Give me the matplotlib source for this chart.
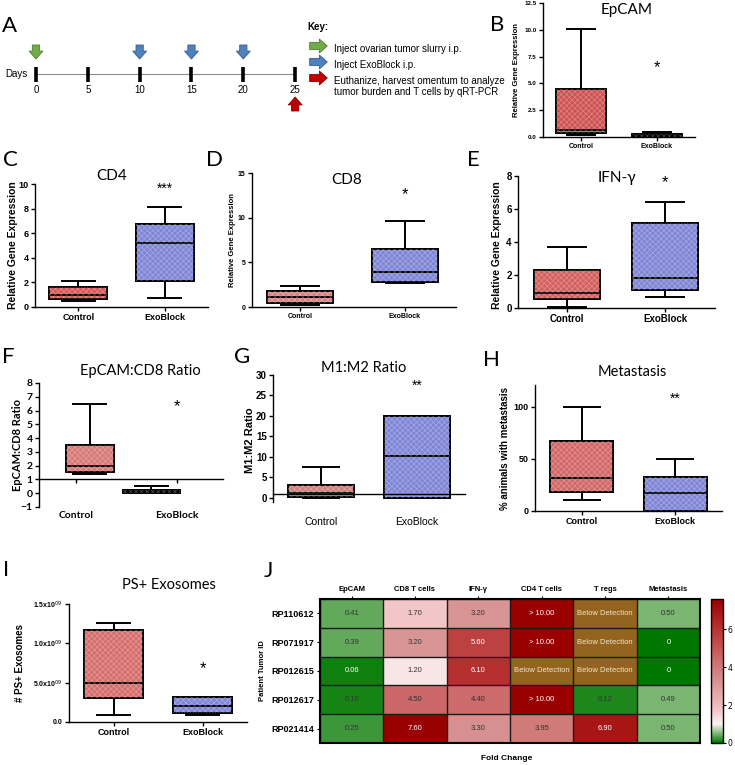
import numpy as np
import matplotlib
matplotlib.use('Agg')
import matplotlib.pyplot as plt
from matplotlib.colors import LinearSegmentedColormap
from matplotlib.patches import Rectangle

####### data

groups = ['Control', 'ExoBlock']

# five-number summaries: [whisker low, Q1, median, Q3, whisker high]
epcam_ctrl = [0.19, 0.34, 0.62, 4.48, 10.1]
epcam_exo = [0.03, 0.03, 0.18, 0.28, 0.5]
cd4_ctrl = [0.49, 0.65, 0.98, 1.65, 2.14]
cd4_exo = [0.7, 2.14, 5.23, 6.72, 8.16]
cd8_ctrl = [0.22, 0.49, 1.08, 1.83, 2.35]
cd8_exo = [2.7, 2.8, 3.9, 6.5, 9.6]
ifng_ctrl = [0.04, 0.53, 0.89, 2.3, 3.72]
ifng_exo = [0.65, 1.09, 1.84, 5.17, 6.4]
epcd8_ctrl = [1.4, 1.52, 1.96, 3.48, 6.45]
epcd8_exo = [0.0, 0.0, 0.1, 0.25, 0.5]
m1m2_ctrl = [0.0, 0.25, 1.2, 3.2, 7.6]
m1m2_exo = [0.0, 0.0, 10.3, 20.0, 20.0]
meta_ctrl = [11, 18, 32, 67, 100]
meta_exo = [0, 0, 17, 33, 50]
ps_ctrl = [0.09e9, 0.31e9, 0.50e9, 1.17e9, 1.26e9]
ps_exo = [0.09e9, 0.11e9, 0.20e9, 0.32e9, 0.32e9]

# timeline (days)
days = [0, 5, 10, 15, 20, 25]
tumor_day = [0]
exoblock_days = [10, 15, 20]
harvest_day = [25]

# heatmap (fold change); nan = below detection, 10 = "> 10.00"
patients = ['RP110612', 'RP071917', 'RP012615', 'RP012617', 'RP021414']
markers = ['EpCAM', 'CD8 T cells', 'IFN-\u03b3', 'CD4 T cells', 'T regs', 'Metastasis']
fc_epcam = [0.41, 0.39, 0.06, 0.10, 0.25]
fc_cd8 = [1.70, 3.20, 1.20, 4.50, 7.60]
fc_ifng = [3.20, 5.60, 6.10, 4.40, 3.30]
fc_cd4 = [10.0, 10.0, np.nan, 10.0, 3.95]
fc_treg = [np.nan, np.nan, np.nan, 0.12, 6.90]
fc_meta = [0.50, 0, 0, 0.49, 0.50]

#######

W, H = 735, 765
plt.rcParams['hatch.linewidth'] = 0.5
fig = plt.figure(figsize=(W / 100, H / 100), dpi=100)
ARIAL = 'Liberation Sans'
CALI = ['Lato', 'DejaVu Sans']
BLUE = '#7f85d6'


def px_axes(x0, y0, x1, y1):
    return fig.add_axes([x0 / W, 1 - y1 / H, (x1 - x0) / W, (y1 - y0) / H])


def ftext(x, y, s, **kw):
    kw.setdefault('ha', 'center')
    kw.setdefault('va', 'center')
    fig.text(x / W, 1 - y / H, s, **kw)


def draw_boxes(ax, ctrl, exo, colors, positions=(1, 2), widths=0.67, capw=0.38, ticks=True):
    stats = []
    for s, lab in zip((ctrl, exo), groups):
        stats.append(dict(whislo=s[0], q1=s[1], med=s[2], q3=s[3], whishi=s[4], fliers=[], label=lab))
    bp = ax.bxp(stats, positions=positions, widths=widths, capwidths=capw, patch_artist=True,
                showfliers=False, manage_ticks=ticks,
                boxprops=dict(lw=1.4, edgecolor='black'), whiskerprops=dict(lw=1.4),
                capprops=dict(lw=1.4), medianprops=dict(color='black', lw=1.4))
    if np.ndim(widths) == 0:
        widths = [widths] * 2
    for patch, c, st, p, w in zip(bp['boxes'], colors, stats, positions, widths):
        patch.set_facecolor(c)
        # checker-like texture of the original fill
        ax.add_patch(Rectangle((p - w / 2, st['q1']), w, st['q3'] - st['q1'], fill=False,
                               hatch='xxxxxx', edgecolor=(1, 1, 1, 0.3), lw=0, zorder=2.5))


def style(ax, xfs, yfs, family=ARIAL, weight='bold'):
    for s in ('top', 'right'):
        ax.spines[s].set_visible(False)
    ax.spines['left'].set_linewidth(1.0)
    ax.spines['bottom'].set_linewidth(1.0)
    ax.tick_params(width=1, length=3, pad=1.5)
    for lab in ax.get_xticklabels():
        lab.set_fontsize(xfs); lab.set_fontfamily(family); lab.set_fontweight(weight)
    for lab in ax.get_yticklabels():
        lab.set_fontsize(yfs); lab.set_fontfamily(family); lab.set_fontweight(weight)


############ A: timeline
axA = px_axes(0, 0, 460, 140)
axA.set_xlim(-3.47, 40.9)
axA.set_ylim(140, 0)
axA.axis('off')
axA.plot([days[0], days[-1]], [74, 74], color='#8c8c8c', lw=0.8, zorder=1)
axA.vlines(days, 67, 82, color='black', lw=2.6, zorder=2)
for d in days:
    axA.text(d, 90, str(d), ha='center', va='center', fontsize=7, family=ARIAL)
axA.text(-1.93, 74, 'Days', ha='center', va='center', fontsize=7, family=ARIAL)


def block_arrow(ax, xy, xytext, fc, ec):
    ax.annotate('', xy=xy, xytext=xytext,
                arrowprops=dict(arrowstyle='simple,head_length=0.6,head_width=1.05,tail_width=0.55',
                                mutation_scale=9.5, fc=fc, ec=ec, lw=0.6, shrinkA=0, shrinkB=0))


for d in tumor_day:
    block_arrow(axA, (d, 59), (d, 45), '#70ad47', '#4e7d31')
for d in exoblock_days:
    block_arrow(axA, (d, 59), (d, 45), '#4f81bd', '#385d8a')
for d in harvest_day:
    block_arrow(axA, (d, 97), (d, 111), '#c00000', '#8b0000')

axA.text(26.2, 27, 'Key:', ha='left', va='center', fontsize=7, family=ARIAL, weight='bold')
key_items = [('#70ad47', '#4e7d31', 46, 'Inject ovarian tumor slurry i.p.'),
             ('#4f81bd', '#385d8a', 62, 'Inject ExoBlock i.p.'),
             ('#c00000', '#8b0000', 78, 'Euthanize, harvest omentum to analyze\ntumor burden and T cells by qRT-PCR')]
for fc, ec, y, txt in key_items:
    block_arrow(axA, (28.1, y), (26.4, y), fc, ec)
    axA.text(28.7, y - 1.5, txt, ha='left', va='top', fontsize=7, family=ARIAL, linespacing=1.1)
ftext(9, 26, 'A', fontsize=16, family=CALI)

############ B: EpCAM
axB = px_axes(543, 3, 695, 137)
draw_boxes(axB, epcam_ctrl, epcam_exo, ['#cf5252', BLUE])
axB.set_xlim(0.5, 2.5)
axB.set_ylim(0, 12.5)
axB.set_yticks(np.arange(0, 12.6, 2.5))
axB.yaxis.set_major_formatter('{x:.1f}')
style(axB, 5, 4.5)
axB.text(2, 6.5, '*', ha='center', va='center', fontsize=12, family=ARIAL)
ftext(517, 70, 'Relative Gene Expression', rotation=90, fontsize=5.5, family=ARIAL, weight='bold')
ftext(627, 10, 'EpCAM', fontsize=11, family=CALI)
ftext(497, 25, 'B', fontsize=16, family=CALI)

############ C: CD4
axC = px_axes(35, 184, 208, 307)
draw_boxes(axC, cd4_ctrl, cd4_exo, ['#d65a5a', BLUE])
axC.set_xlim(0.5, 2.5)
axC.set_ylim(0, 10)
axC.set_yticks(np.arange(0, 11, 2))
style(axC, 6.5, 6.5)
axC.text(2, 9.6, '***', ha='center', va='center', fontsize=10, family=ARIAL)
ftext(13, 245, 'Relative Gene Expression', rotation=90, fontsize=7.5, family=ARIAL, weight='bold')
ftext(112, 176, 'CD4', fontsize=11, family=CALI)
ftext(10, 160, 'C', fontsize=16, family=CALI)

############ D: CD8
axD = px_axes(252, 173, 456, 307)
draw_boxes(axD, cd8_ctrl, cd8_exo, ['#da8282', BLUE], widths=0.63, capw=0.36)
axD.set_xlim(0.54, 2.49)
axD.set_ylim(0, 15)
axD.set_yticks([0, 5, 10, 15])
style(axD, 5, 5)
axD.text(2, 12.6, '*', ha='center', va='center', fontsize=12, family=ARIAL)
ftext(233, 240, 'Relative Gene Expression', rotation=90, fontsize=5.5, family=ARIAL, weight='bold')
ftext(347, 180, 'CD8', fontsize=11, family=CALI)
ftext(214, 160, 'D', fontsize=16, family=CALI)

############ E: IFN-g
axE = px_axes(518, 176, 715, 308)
draw_boxes(axE, ifng_ctrl, ifng_exo, ['#d45e5e', BLUE])
axE.set_xlim(0.5, 2.51)
axE.set_ylim(0, 8)
axE.set_yticks(np.arange(0, 9, 2))
style(axE, 7, 7)
axE.text(2, 7.6, '*', ha='center', va='center', fontsize=12, family=ARIAL)
ftext(497, 245, 'Relative Gene Expression', rotation=90, fontsize=7.5, family=ARIAL, weight='bold')
ftext(617, 178, 'IFN-\u03b3', fontsize=11, family=CALI)
ftext(473, 160, 'E', fontsize=16, family=CALI)

############ F: EpCAM:CD8 ratio
axF = px_axes(39, 383, 223, 507)
draw_boxes(axF, epcd8_ctrl, epcd8_exo, ['#d87878', BLUE], positions=(1.05, 1.72),
           widths=(0.52, 0.62), capw=0.36, ticks=False)
axF.set_xlim(0.5, 2.5)
axF.set_ylim(-1, 8)
axF.set_yticks(np.arange(-1, 9, 1))
axF.set_xticks([0.9, 2.0], groups)
axF.spines['bottom'].set_position(('data', 1))
style(axF, 7.5, 7.5, family=CALI)
axF.tick_params(axis='x', pad=20)
axF.text(2.0, 6.3, '*', ha='center', va='center', fontsize=12, family=ARIAL)
ftext(18, 445, 'EpCAM:CD8 Ratio', rotation=90, fontsize=8, family=CALI, weight='bold')
ftext(140, 371, 'EpCAM:CD8 Ratio', fontsize=10.5, family=CALI)
ftext(8, 357, 'F', fontsize=16, family=CALI)

############ G: M1:M2 ratio
axG = px_axes(273, 375, 465, 502)
draw_boxes(axG, m1m2_ctrl, m1m2_exo, ['#da7a7a', BLUE], widths=0.68)
axG.set_xlim(0.5, 2.5)
axG.set_ylim(-1, 30)
axG.set_yticks(np.arange(0, 31, 5))
axG.spines['bottom'].set_position(('data', 1))
style(axG, 7.5, 7)
for lab in axG.get_xticklabels():
    lab.set_fontweight('normal')
axG.tick_params(axis='x', length=0, pad=17)
axG.text(2, 27.3, '**', ha='center', va='center', fontsize=10, family=ARIAL)
ftext(250, 440, 'M1:M2 Ratio', rotation=90, fontsize=8, family=ARIAL, weight='bold')
ftext(364, 368, 'M1:M2 Ratio', fontsize=10.5, family=CALI)
ftext(242, 357, 'G', fontsize=16, family=CALI)

############ H: metastasis
axH = px_axes(535, 385, 722, 511)
draw_boxes(axH, meta_ctrl, meta_exo, ['#d36666', BLUE])
axH.set_xlim(0.5, 2.5)
axH.set_ylim(0, 121)
axH.set_yticks([0, 50, 100])
style(axH, 6.5, 6.5)
axH.text(2, 108, '**', ha='center', va='center', fontsize=10, family=ARIAL)
ftext(505, 448, '% animals with metastasis', rotation=90, fontsize=7, family=ARIAL, weight='bold')
ftext(632, 372, 'Metastasis', fontsize=10.5, family=CALI)
ftext(491, 360, 'H', fontsize=16, family=CALI)

############ I: PS+ exosomes
axI = px_axes(69, 604, 247, 722)
draw_boxes(axI, ps_ctrl, ps_exo, ['#d76c6c', BLUE])
axI.set_xlim(0.5, 2.5)
axI.set_ylim(0, 1.5e9)
ps_ticks = [0, 0.5e9, 1.0e9, 1.5e9]
axI.set_yticks(ps_ticks, ['0.0'] + ['%.1fx10$^{09}$' % (t / 1e9 * 10 if t < 1e9 else t / 1e9) for t in ps_ticks[1:]])
style(axI, 6.5, 5)
axI.text(2, 0.68e9, '*', ha='center', va='center', fontsize=12, family=ARIAL)
ftext(20, 663, '# PS+ Exosomes', rotation=90, fontsize=7, family=ARIAL, weight='bold')
ftext(169, 585, 'PS+ Exosomes', fontsize=10.5, family=CALI)
ftext(6, 570, 'I', fontsize=16, family=CALI)

############ J: heatmap
fc = np.column_stack([fc_epcam, fc_cd8, fc_ifng, fc_cd4, fc_treg, fc_meta])
vmax = 7.6
cmap = LinearSegmentedColormap.from_list('fold', [
    (0.0, '#007800'), (0.5 / vmax, '#80b878'), (1.0 / vmax, '#fbf2f2'),
    (1.7 / vmax, '#f2c6c6'), (3.2 / vmax, '#d99494'), (4.5 / vmax, '#cc6868'),
    (6.1 / vmax, '#b73030'), (1.0, '#9b0000')])
cmap.set_bad('#946320')
axJ = px_axes(320, 599, 700, 743)
im = axJ.imshow(np.ma.masked_invalid(fc), cmap=cmap, vmin=0, vmax=vmax, aspect='auto')
axJ.xaxis.tick_top()
axJ.set_xticks(range(len(markers)), markers)
axJ.set_yticks(range(len(patients)), patients)
axJ.set_xticks(np.arange(-0.5, len(markers)), minor=True)
axJ.set_yticks(np.arange(-0.5, len(patients)), minor=True)
axJ.grid(which='minor', color='#1a1a1a', lw=1.0)
axJ.tick_params(which='minor', length=0)
axJ.tick_params(which='major', length=2.5, width=0.8, pad=2)
for lab in axJ.get_xticklabels() + axJ.get_yticklabels():
    lab.set_fontfamily(ARIAL); lab.set_fontweight('bold')
for lab in axJ.get_xticklabels():
    lab.set_fontsize(5.5)
for lab in axJ.get_yticklabels():
    lab.set_fontsize(6.5)
for s in axJ.spines.values():
    s.set_linewidth(1.5)
for i in range(fc.shape[0]):
    for j in range(fc.shape[1]):
        v = fc[i, j]
        if np.isnan(v):
            s, c = 'Below Detection', '#f3e6cc'
        elif v >= 10:
            s, c = '> 10.00', 'white'
        elif v == 0:
            s, c = '0', 'white'
        else:
            s = '%.2f' % v
            c = 'white' if (v < 0.08 or v > 5) else '#333333'
        axJ.text(j, i, s, ha='center', va='center', fontsize=5.5, color=c, family=ARIAL)
cax = px_axes(711, 599, 723, 743)
cb = fig.colorbar(im, cax=cax, ticks=[0, 2, 4, 6])
cb.outline.set_linewidth(1.0)
cb.ax.tick_params(labelsize=5.5, length=2, width=0.8, pad=1)
ftext(262, 671, 'Patient Tumor ID', rotation=90, fontsize=5.5, family=ARIAL, weight='bold')
ftext(507, 759, 'Fold Change', fontsize=6, family=ARIAL, weight='bold')
ftext(268, 571, 'J', fontsize=16, family=CALI)

fig.savefig('out.png', dpi=100)
